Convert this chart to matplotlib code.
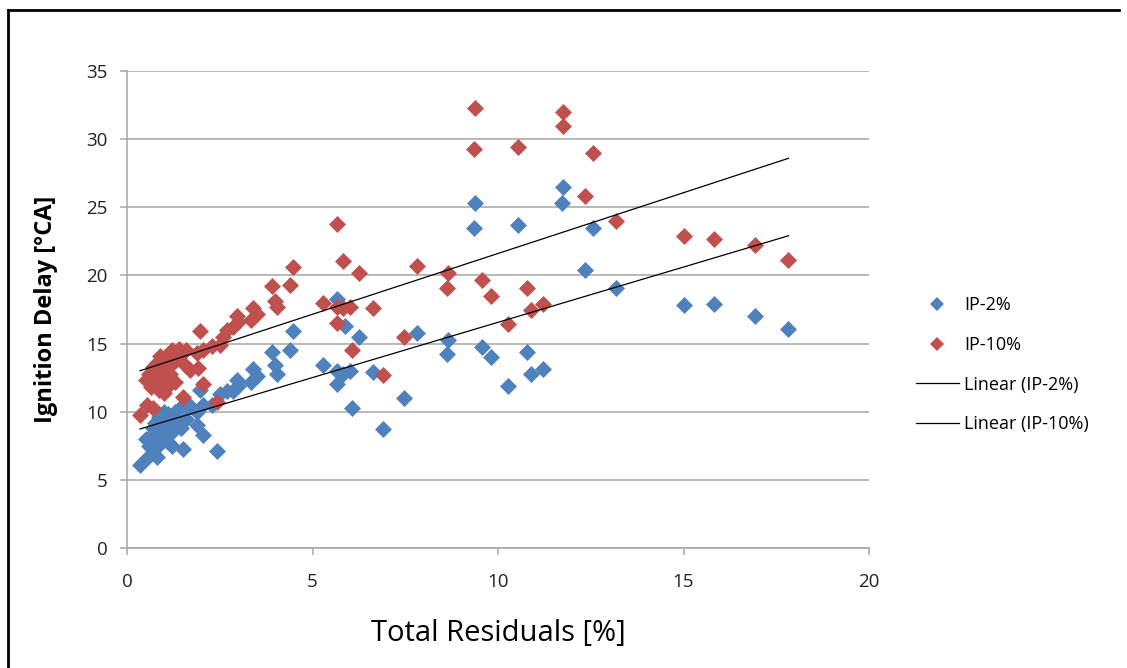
import numpy as np
import matplotlib.pyplot as plt
from matplotlib.lines import Line2D

plt.rcParams['font.family'] = ['Open Sans', 'DejaVu Sans']

# IP-2% series (Total residuals %, ignition delay °CA)
ip2_x = [0.35, 0.55, 0.8, 0.6, 0.5, 0.65, 0.7, 0.8, 0.9, 0.95, 1.0, 1.05, 1.1, 1.15, 1.2, 1.25,
         0.75, 0.85, 1.3, 1.35, 1.4, 1.0, 1.1, 1.2, 0.7, 1.52, 1.7, 1.88, 1.88, 2.06, 2.06, 2.28,
         1.97, 2.42, 1.6, 1.45,
         2.5, 2.69, 2.87, 3.0, 2.96, 3.35, 3.4, 3.5, 3.99, 4.03, 3.9, 4.39, 4.48,
         5.29, 5.65, 5.83, 6.0, 6.62, 5.65, 6.06, 7.47, 6.91, 5.65, 5.88, 6.26, 7.81,
         8.66, 8.63, 9.56, 9.8, 10.77, 10.88, 11.22, 10.26,
         9.38, 9.35, 10.55, 11.76, 11.73, 12.57, 12.35, 13.17,
         15.02, 15.82, 16.93, 17.83]
ip2_y = [6.1, 6.6, 6.7, 7.5, 8.0, 8.2, 8.8, 8.0, 7.6, 8.5, 9.0, 8.2, 7.8, 8.8, 9.5, 8.6,
         9.2, 9.6, 10.0, 9.2, 10.2, 10.0, 9.8, 7.5, 7.0, 7.3, 10.4, 10.0, 9.0, 8.3, 10.5, 10.5,
         11.6, 7.1, 9.5, 8.8,
         11.3, 11.5, 11.5, 11.9, 12.3, 12.2, 13.1, 12.6, 13.4, 12.8, 14.4, 14.5, 15.9,
         13.4, 13.0, 12.8, 13.0, 12.9, 12.0, 10.25, 11.0, 8.7, 18.3, 16.3, 15.5, 15.75,
         15.26, 14.2, 14.77, 14.0, 14.36, 12.8, 13.1, 11.9,
         25.3, 23.45, 23.7, 26.5, 25.3, 23.5, 20.4, 19.05,
         17.8, 17.9, 17.05, 16.1]

# IP-10% series
ip10_x = [0.35, 0.53, 0.71, 0.5, 0.6, 0.7, 0.8, 0.9, 0.95, 1.0, 1.05, 1.1, 1.15, 1.2, 1.25,
          1.3, 1.35, 1.4, 0.65, 0.85, 1.0, 1.1, 0.75, 0.9, 1.2, 1.6, 1.43, 1.88, 2.06, 1.7,
          1.92, 2.06, 1.52, 2.42, 1.97, 2.28, 2.5, 1.55,
          2.6, 2.69, 2.87, 3.0, 2.96, 3.35, 3.4, 3.5, 3.9, 4.39, 3.99, 4.03, 4.48,
          5.29, 5.65, 5.83, 6.01, 6.62, 5.65, 6.06, 7.47, 6.91, 5.65, 5.83, 6.26, 7.81,
          8.66, 8.63, 9.56, 9.8, 10.77, 10.88, 11.22, 10.26,
          9.38, 9.35, 11.76, 11.74, 10.55, 12.55, 12.35, 13.17,
          15.02, 15.82, 16.93, 17.83]
ip10_y = [9.76, 10.5, 10.25, 12.3, 12.8, 13.3, 13.6, 12.0, 13.0, 12.5, 13.8, 14.2, 12.8, 13.5, 14.4,
          12.2, 13.9, 14.6, 11.8, 11.6, 11.4, 11.9, 12.6, 14.1, 14.5, 14.5, 14.3, 14.3, 14.5, 13.06,
          13.2, 12.0, 11.1, 10.7, 15.9, 14.8, 14.9, 13.4,
          15.5, 16.0, 16.2, 16.6, 17.0, 16.7, 17.6, 17.2, 19.2, 19.3, 18.1, 17.7, 20.6,
          18.0, 17.7, 17.6, 17.7, 17.6, 16.5, 14.5, 15.5, 12.7, 23.75, 21.06, 20.15, 20.7,
          20.15, 19.05, 19.66, 18.5, 19.1, 17.5, 17.9, 16.4,
          32.3, 29.3, 32.0, 31.0, 29.4, 29.0, 25.8, 24.0,
          22.9, 22.7, 22.2, 21.1]

# linear trendline coefficients (slope, intercept) as shown on the chart
trend_2 = (0.811, 8.45)
trend_10 = (0.892, 12.69)

blue = '#4F81BD'
red = '#C0504D'
grid_c = '#A6A6A6'

fig = plt.figure(figsize=(11.27, 6.68), dpi=100)
ax = fig.add_axes([127/1127, 1-548/668, (869-127)/1127, (548-71)/668])

ax.scatter(ip2_x, ip2_y, marker='D', s=75, color=blue, linewidths=0, zorder=3)
ax.scatter(ip10_x, ip10_y, marker='D', s=75, color=red, linewidths=0, zorder=3)

for xs, (m, b) in [(ip2_x, trend_2), (ip10_x, trend_10)]:
    xx = np.array([min(xs), max(xs)])
    ax.plot(xx, m*xx + b, color='black', lw=0.9, zorder=4)

ax.set_xlim(0, 20)
ax.set_ylim(0, 35)
ax.set_xticks([0, 5, 10, 15, 20])
ax.set_yticks(range(0, 36, 5))
ax.yaxis.grid(True, color=grid_c, lw=1.1)
ax.set_axisbelow(True)
for s in ['top', 'right']:
    ax.spines[s].set_visible(False)
for s in ['left', 'bottom']:
    ax.spines[s].set_color(grid_c)
    ax.spines[s].set_linewidth(1.1)
ax.tick_params(axis='both', colors=grid_c, length=5, width=1.1, labelsize=13.5,
               labelcolor='#222222')
ax.tick_params(axis='x', pad=13)
ax.tick_params(axis='y', pad=9)

ax.set_ylabel('Ignition Delay [°CA]', fontsize=17, fontweight='bold', labelpad=20)
ax.set_xlabel('Total Residuals [%]', fontsize=21, labelpad=20)

handles = [
    Line2D([], [], marker='D', ls='none', color=blue, ms=7, mew=0),
    Line2D([], [], marker='D', ls='none', color=red, ms=7, mew=0),
    Line2D([], [], color='black', lw=0.9),
    Line2D([], [], color='black', lw=0.9),
]
labels = ['IP-2%', 'IP-10%', 'Linear (IP-2%)', 'Linear (IP-10%)']
fig.legend(handles, labels, loc='upper left', bbox_to_anchor=(900/1127, 1-280/668),
           frameon=False, fontsize=13, handlelength=2.35, handletextpad=0.3,
           labelspacing=1.2)

# chart border (left and top)
fig.add_artist(Line2D([8/1127, 8/1127], [0, 1-10/668], color='black', lw=2))
fig.add_artist(Line2D([8/1127, 1119/1127], [1-10/668, 1-10/668], color='black', lw=2))

fig.savefig('out.png', dpi=100)
